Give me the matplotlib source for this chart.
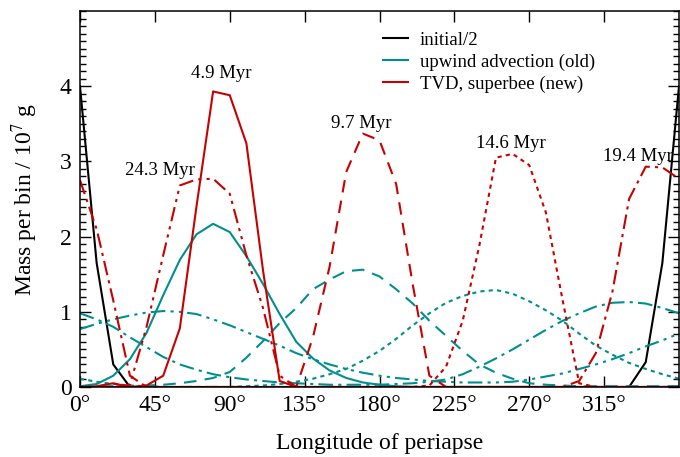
import numpy as np
import matplotlib
matplotlib.use("Agg")
import matplotlib.pyplot as plt
from matplotlib.lines import Line2D
from matplotlib.ticker import MultipleLocator, NullLocator

plt.rcParams["font.family"] = "serif"
plt.rcParams["font.serif"] = ["Liberation Serif", "DejaVu Serif"]
plt.rcParams["mathtext.fontset"] = "stix"

# longitude of periapse, bins every 10 degrees
lon = np.arange(0, 361, 10)

# initial distribution / 2
initial = [4.0, 1.65, 0.3] + [0.0] * 31 + [0.33, 1.65, 4.0]

# upwind advection (old)
up_49 = [0.01, 0.04, 0.15, 0.37, 0.72, 1.22, 1.69, 2.03, 2.17, 2.06,
         1.74, 1.37, 0.97, 0.6, 0.38, 0.22, 0.12, 0.06, 0.03, 0.01,
         0.0, 0.0, 0.0, 0.0, 0.0, 0.0, 0.0, 0.0, 0.0, 0.0,
         0.0, 0.0, 0.0, 0.0, 0.0, 0.0, 0.01]
up_97 = [0.01, 0.01, 0.01, 0.01, 0.02, 0.03, 0.05, 0.08, 0.12, 0.2,
         0.39, 0.61, 0.85, 1.05, 1.3, 1.43, 1.54, 1.56, 1.47, 1.3,
         1.11, 0.88, 0.68, 0.48, 0.3, 0.19, 0.11, 0.05, 0.03, 0.02,
         0.01, 0.01, 0.01, 0.01, 0.01, 0.01, 0.01]
up_146 = [0.11, 0.07, 0.04, 0.02, 0.01, 0.0, 0.0, 0.0, 0.0, 0.0,
          0.01, 0.02, 0.04, 0.07, 0.11, 0.17, 0.24, 0.35, 0.48, 0.64,
          0.82, 0.98, 1.12, 1.21, 1.27, 1.29, 1.24, 1.14, 1.02, 0.88,
          0.71, 0.55, 0.43, 0.32, 0.24, 0.17, 0.11]
up_194 = [0.98, 0.9, 0.8, 0.66, 0.53, 0.4, 0.3, 0.23, 0.17, 0.13,
          0.1, 0.08, 0.06, 0.05, 0.04, 0.03, 0.03, 0.03, 0.03, 0.04,
          0.05, 0.07, 0.1, 0.17, 0.27, 0.38, 0.5, 0.63, 0.76, 0.88,
          0.98, 1.07, 1.12, 1.13, 1.11, 1.05, 0.98]
up_243 = [0.77, 0.84, 0.9, 0.95, 0.99, 1.01, 1.0, 0.97, 0.9, 0.82,
          0.73, 0.64, 0.55, 0.45, 0.37, 0.3, 0.24, 0.19, 0.15, 0.12,
          0.1, 0.08, 0.07, 0.06, 0.06, 0.06, 0.07, 0.1, 0.14, 0.18,
          0.24, 0.3, 0.37, 0.45, 0.54, 0.62, 0.71]

# TVD, superbee (new)
tvd_49 = [0.0, 0.01, 0.05, 0.0, 0.02, 0.15, 0.78, 2.4, 3.93, 3.88,
          3.24, 1.55, 0.08] + [0.0] * 24
tvd_97 = [0.0] * 13 + [0.0, 0.66, 1.6, 2.86, 3.37, 3.28, 2.7,
                       1.36, 0.15] + [0.0] * 15
tvd_146 = [0.0] * 21 + [0.02, 0.27, 0.88, 1.88, 3.05, 3.1, 2.95,
                        2.32, 1.16, 0.05] + [0.0] * 6
tvd_194 = [2.75, 2.1, 1.15, 0.15] + [0.0] * 26 + [0.08, 0.45, 1.27,
                                                   2.5, 2.93, 2.92, 2.77]
tvd_243 = [0.0, 0.0, 0.0, 0.03, 0.8, 1.75, 2.68, 2.76, 2.77, 2.57,
           1.75, 1.05, 0.15] + [0.0] * 24

times = ["4.9 Myr", "9.7 Myr", "14.6 Myr", "19.4 Myr", "24.3 Myr"]
label_pos = [(85, 4.17), (169, 3.5), (259, 3.24), (335.5, 3.07), (48, 2.88)]

red = "#c80000"
teal = "#008f8f"
styles = ["-", (0, (6, 4)), (0, (2, 2)), (0, (7, 2.5, 1.5, 2.5)),
          (0, (7, 2.5, 1.5, 2.5, 1.5, 2.5))]

fig = plt.figure(figsize=(6.8, 4.57), dpi=100)
ax = fig.add_axes([80 / 680, 70 / 457, 599 / 680, 376 / 457])

ax.plot(lon, initial, color="black", lw=1.5)
for ys, ls in zip([up_49, up_97, up_146, up_194, up_243], styles):
    ax.plot(lon, ys, color=teal, lw=1.5, linestyle=ls)
for ys, ls in zip([tvd_49, tvd_97, tvd_146, tvd_194, tvd_243], styles):
    ax.plot(lon, ys, color=red, lw=1.5, linestyle=ls)

for t, (x, y) in zip(times, label_pos):
    ax.text(x, y, t, ha="center", va="center", fontsize=13.5)

ax.set_xlim(0, 360)
ax.set_ylim(0, 5)
ax.set_xticks(range(0, 360, 45))
ax.set_xticklabels([f"{d}°" for d in range(0, 360, 45)])
ax.set_yticks([0, 1, 2, 3, 4])
ax.yaxis.set_minor_locator(MultipleLocator(0.1))
ax.xaxis.set_minor_locator(NullLocator())
ax.tick_params(which="both", direction="in", top=True, right=True,
               labelsize=17, width=1)
ax.tick_params(which="major", length=8, pad=6)
ax.tick_params(which="minor", length=4)
for s in ax.spines.values():
    s.set_linewidth(1.1)

ax.set_xlabel("Longitude of periapse", fontsize=17, labelpad=12)
ax.set_ylabel("Mass per bin / 10$^7$ g", fontsize=17, labelpad=14)

handles = [Line2D([], [], color="black", lw=1.5),
           Line2D([], [], color=teal, lw=1.5),
           Line2D([], [], color=red, lw=1.5)]
ax.legend(handles, ["initial/2", "upwind advection (old)", "TVD, superbee (new)"],
          loc="upper left", bbox_to_anchor=(0.506, 0.945), frameon=False,
          fontsize=13.5, handlelength=1.33, handletextpad=0.64,
          labelspacing=0.25, borderpad=0, borderaxespad=0)

fig.savefig("out.png", dpi=100)
